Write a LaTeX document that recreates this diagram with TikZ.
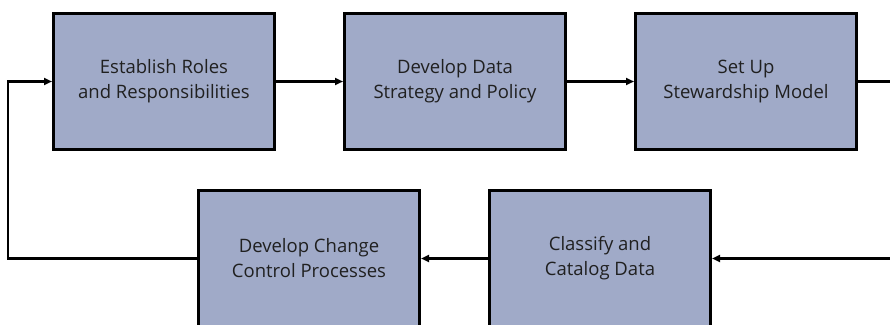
\documentclass[tikz,border=0pt]{standalone}
\usepackage{fontspec}
\setmainfont{Open Sans}
\usepackage{xcolor}
\usepackage{tikz}
\usetikzlibrary{arrows.meta,positioning}
\definecolor{boxfill}{HTML}{A0AAC8}
\definecolor{textgray}{HTML}{202020}
\tikzset{
  arr/.style={-{Triangle[length=8pt,width=7pt]},line width=2.5pt},
  conn/.style={line width=2.5pt},
  stepbox/.style={rectangle,draw=black,line width=3pt,fill=boxfill,
    minimum width=221pt,minimum height=136pt,align=center,
    text=textgray,font=\fontsize{18.5}{25}\selectfont},
}
\begin{document}
\begin{tikzpicture}[x=1pt,y=-1pt,node distance=67pt]
\useasboundingbox (0,0) rectangle (890,324);

% top row
\node[stepbox] (roles) at (164,81.5) {Establish Roles\\and Responsibilities};
\node[stepbox,right=of roles] (strategy) {Develop Data\\Strategy and Policy};
\node[stepbox,right=of strategy] (steward) {Set Up\\Stewardship Model};

% bottom row
\node[stepbox,below right=38pt and 145pt of roles.south west] (change)
  {Develop Change\\Control Processes};
\node[stepbox,right=of change] (classify) {Classify and\\Catalog Data};

\coordinate (lft) at (8,0);
\coordinate (rgt) at (890,0);

\draw[arr] (roles) -- (strategy);
\draw[arr] (strategy) -- (steward);
\draw[conn] (steward.east) -- (steward.east -| rgt);
\draw[arr] (classify.east -| rgt) -- (classify.east);
\draw[arr] (classify) -- (change);
\draw[arr] (change.west) -- (change.west -| lft) |- (roles.west);
\end{tikzpicture}
\end{document}
